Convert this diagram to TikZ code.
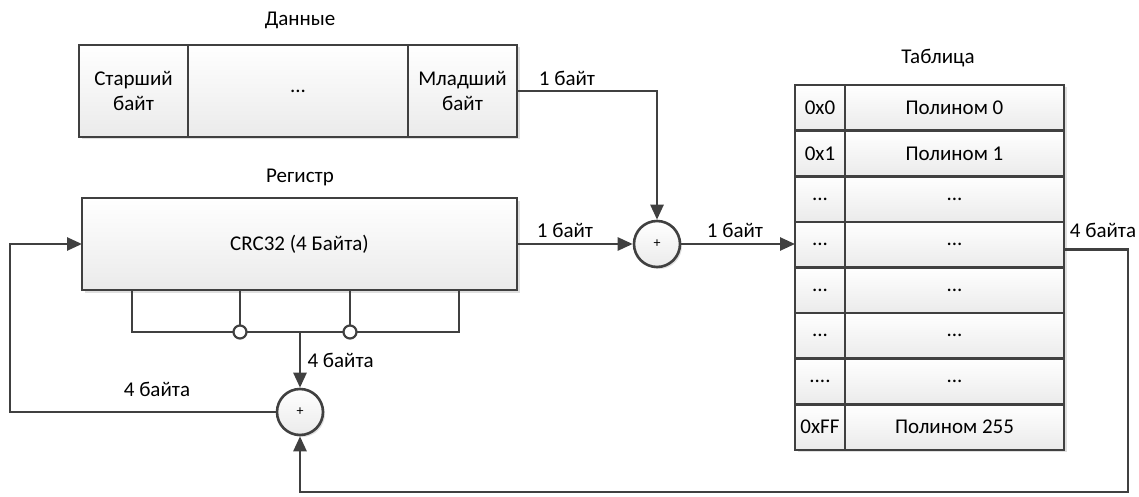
\documentclass[tikz,border=0pt]{standalone}
\usepackage{fontspec}
\setmainfont{Carlito}
\usetikzlibrary{arrows.meta,shadows,calc}
\definecolor{ln}{HTML}{404040}
\newcommand\mydots{...}
\newcommand\mydotsb{....}
\tikzset{
  cell/.style={draw=ln, line width=2.6pt, top color=white, bottom color=gray!16,
    inner sep=0pt, outer sep=0pt, align=center, font=\fontsize{21}{25}\selectfont,
    drop shadow={shadow xshift=2.5pt, shadow yshift=-2.5pt, opacity=0.25, fill=gray}},
  adder/.style={circle, draw=ln, line width=2.6pt, top color=white, bottom color=gray!16,
    minimum size=46pt, inner sep=0pt, font=\fontsize{14}{16}\selectfont,
    drop shadow={shadow xshift=2pt, shadow yshift=-2pt, opacity=0.25, fill=gray}},
  tap/.style={circle, draw=ln, line width=2.2pt, fill=white, minimum size=13pt, inner sep=0pt},
  wire/.style={draw=ln, line width=2.6pt},
  arr/.style={wire, -{Triangle[length=15pt,width=13pt]}},
  lbl/.style={font=\fontsize{21}{25}\selectfont, text=black},
}
\begin{document}
\begin{tikzpicture}[x=1pt,y=-1pt]
\useasboundingbox (0,0) rectangle (1139,497);
% titles
\node[lbl] (tdata) at (300,20) {Данные};
\node[lbl] (treg) at (300,177) {Регистр};
\node[lbl] (ttab) at (938,58) {Таблица};
% data
\node[cell, minimum width=109pt, minimum height=92pt] (d1) at (133.5,91) {Старший\\байт};
\node[cell, minimum width=220pt, minimum height=92pt] (d2) at (298,91) {...};
\node[cell, minimum width=109pt, minimum height=92pt] (d3) at (462.5,91) {Младший\\байт};
% register
\node[cell, minimum width=435pt, minimum height=92pt] (reg) at (299.5,244) {CRC32 (4 Байта)};
% adders
\node[adder] (a1) at (657,244) {+};
\node[adder] (a2) at (300,412) {+};
% table
\foreach \i/\a/\b in {0/0x0/Полином 0,1/0x1/Полином 1,2/\mydots/\mydots,3/\mydots/\mydots,4/\mydots/\mydots,5/\mydots/\mydots,6/\mydotsb/\mydots,7/0xFF/Полином 255}{
  \node[cell, minimum width=50pt, minimum height=45.6pt] (ta\i) at (820,{85+45.6*(\i+0.5)}) {\a};
  \node[cell, minimum width=219pt, minimum height=45.6pt] (tb\i) at (954.5,{85+45.6*(\i+0.5)}) {\b};
}
% bus
\coordinate (bl) at (132,332);
\coordinate (br) at (459,332);
\coordinate (bm) at (300,332);
\coordinate (bt1) at (240,332);
\coordinate (bt2) at (350,332);
\draw[wire] (reg.south -| bl) -- (bl) -- (br) -- (reg.south -| br);
\draw[wire] (reg.south -| bt1) -- (bt1);
\draw[wire] (reg.south -| bt2) -- (bt2);
\node[tap] (b1) at (bt1) {};
\node[tap] (b2) at (bt2) {};
\draw[arr] (bm) -- (a2.north);
\node[lbl, anchor=west] (l4a) at (304,360) {4 байта};
% data -> a1
\draw[arr] (d3.east) -| (a1.north);
\node[lbl] (l1a) at (567,78) {1 байт};
% reg -> a1
\draw[arr] (reg.east |- a1.west) -- (a1.west);
\node[lbl] (l1b) at (565,230) {1 байт};
% a1 -> table
\draw[arr] (a1.east) -- (a1.east -| ta3.west);
\node[lbl] (l1c) at (735,230) {1 байт};
% table -> a2
\coordinate (c1) at (1128,492);
\draw[arr] ([yshift=-5pt]tb3.east) -| (c1) -| (a2.south);
\node[lbl] (l4b) at (1103,230) {4 байта};
% loop a2 -> reg
\coordinate (c2) at (10,244);
\draw[arr] (a2.west) -| (c2) -- (reg.west |- c2);
\node[lbl] (l4c) at (157,389) {4 байта};
\end{tikzpicture}
\end{document}
